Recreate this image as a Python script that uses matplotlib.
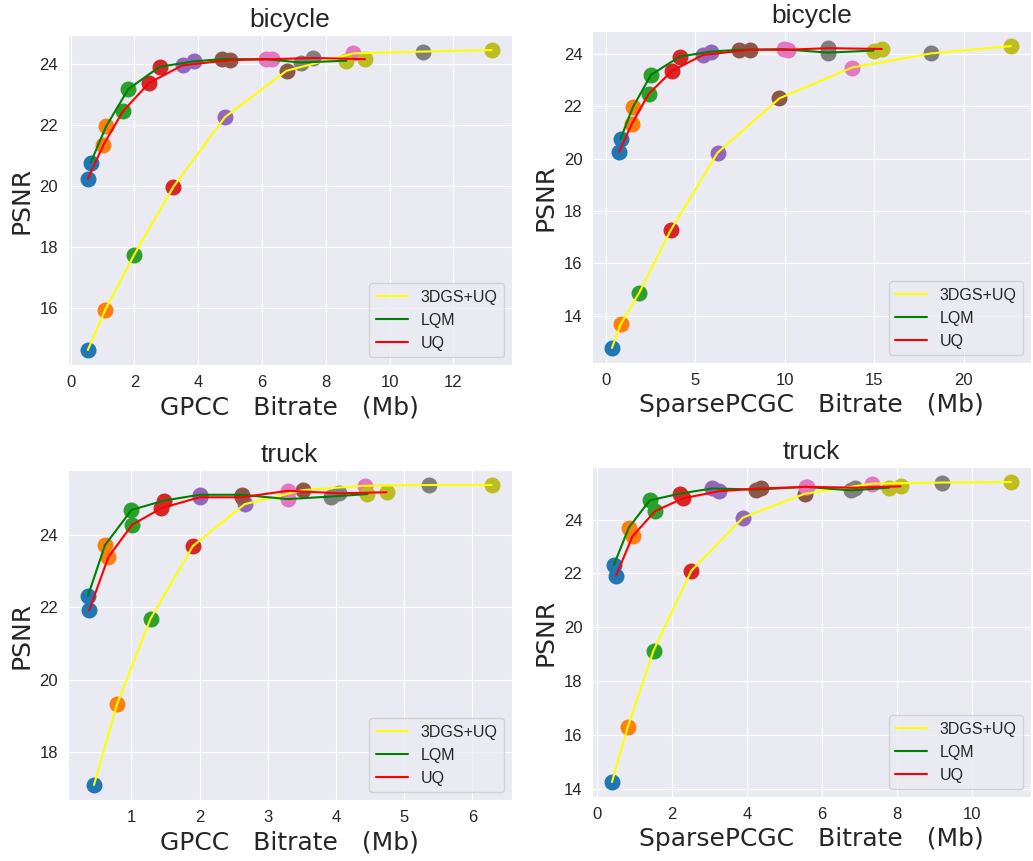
import matplotlib
matplotlib.use("Agg")
import matplotlib.pyplot as plt
import seaborn as sns

# bicycle / GPCC
bg_3dgs_x = [0.54, 1.08, 1.99, 3.22, 4.84, 6.77, 8.87, 11.04, 13.2]
bg_3dgs_y = [14.62, 15.93, 17.74, 19.97, 22.26, 23.78, 24.35, 24.41, 24.46]
bg_lqm_x = [0.63, 1.12, 1.81, 2.79, 3.87, 4.74, 6.12, 7.22, 8.65]
bg_lqm_y = [20.77, 21.97, 23.18, 23.91, 24.09, 24.16, 24.16, 24.05, 24.11]
bg_uq_x = [0.54, 1.03, 1.64, 2.46, 3.51, 5.0, 6.3, 7.6, 9.23]
bg_uq_y = [20.24, 21.35, 22.45, 23.38, 23.96, 24.13, 24.16, 24.2, 24.16]

# bicycle / SparsePCGC
bs_3dgs_x = [0.35, 0.83, 1.88, 3.63, 6.25, 9.71, 13.77, 18.19, 22.65]
bs_3dgs_y = [12.76, 13.66, 14.88, 17.26, 20.23, 22.31, 23.49, 24.03, 24.31]
bs_lqm_x = [0.83, 1.51, 2.53, 4.15, 5.88, 7.47, 9.94, 12.42, 14.97]
bs_lqm_y = [20.76, 21.96, 23.21, 23.91, 24.1, 24.17, 24.19, 24.06, 24.14]
bs_uq_x = [0.74, 1.46, 2.4, 3.72, 5.44, 8.07, 10.17, 12.42, 15.43]
bs_uq_y = [20.25, 21.33, 22.48, 23.37, 23.97, 24.17, 24.17, 24.23, 24.2]

# truck / GPCC
tg_3dgs_x = [0.45, 0.79, 1.28, 1.9, 2.66, 3.52, 4.42, 5.36, 6.28]
tg_3dgs_y = [17.08, 19.33, 21.69, 23.7, 24.86, 25.25, 25.37, 25.39, 25.39]
tg_lqm_x = [0.36, 0.61, 1.0, 1.48, 2.0, 2.62, 3.29, 3.92, 4.46]
tg_lqm_y = [22.31, 23.72, 24.7, 24.96, 25.12, 25.12, 25.0, 25.07, 25.14]
tg_uq_x = [0.38, 0.66, 1.01, 1.44, 2.0, 2.62, 3.29, 4.05, 4.74]
tg_uq_y = [21.92, 23.39, 24.29, 24.75, 25.05, 25.05, 25.23, 25.16, 25.19]

# truck / SparsePCGC
ts_3dgs_x = [0.39, 0.81, 1.5, 2.51, 3.89, 5.55, 7.35, 9.22, 11.05]
ts_3dgs_y = [14.27, 16.3, 19.14, 22.1, 24.07, 24.96, 25.33, 25.37, 25.39]
ts_lqm_x = [0.44, 0.84, 1.4, 2.2, 3.07, 4.25, 5.57, 6.78, 7.79]
ts_lqm_y = [22.31, 23.7, 24.71, 24.96, 25.15, 25.11, 25.21, 25.08, 25.18]
ts_uq_x = [0.5, 0.94, 1.54, 2.28, 3.25, 4.36, 5.59, 6.89, 8.1]
ts_uq_y = [21.92, 23.38, 24.31, 24.78, 25.05, 25.15, 25.21, 25.18, 25.23]

titles = ["bicycle", "bicycle", "truck", "truck"]
xlabels = ["GPCC   Bitrate   (Mb)", "SparsePCGC   Bitrate   (Mb)",
           "GPCC   Bitrate   (Mb)", "SparsePCGC   Bitrate   (Mb)"]
methods = ["3DGS+UQ", "LQM", "UQ"]
line_colors = ["yellow", "green", "red"]

panels = [
    [(bg_3dgs_x, bg_3dgs_y), (bg_lqm_x, bg_lqm_y), (bg_uq_x, bg_uq_y)],
    [(bs_3dgs_x, bs_3dgs_y), (bs_lqm_x, bs_lqm_y), (bs_uq_x, bs_uq_y)],
    [(tg_3dgs_x, tg_3dgs_y), (tg_lqm_x, tg_lqm_y), (tg_uq_x, tg_uq_y)],
    [(ts_3dgs_x, ts_3dgs_y), (ts_lqm_x, ts_lqm_y), (ts_uq_x, ts_uq_y)],
]

sns.set_style("darkgrid")
plt.rcParams['font.family'] = ['Liberation Sans', 'DejaVu Sans']

fig, axes = plt.subplots(2, 2, figsize=(10.33, 8.61), dpi=100)
axes = axes.flatten()

# axes boxes in figure fractions (left, bottom, width, height)
positions = [
    (0.0655, 0.5761, 0.4299, 0.3832),
    (0.5731, 0.5784, 0.4249, 0.3856),
    (0.0655, 0.0709, 0.4299, 0.3832),
    (0.5731, 0.0743, 0.4249, 0.3833),
]

for k, ax in enumerate(axes):
    ax.set_position(positions[k])
    for (xs, ys), name, col in zip(panels[k], methods, line_colors):
        for i in range(len(xs)):
            ax.scatter(xs[i], ys[i], s=110, color=f"C{i}", zorder=1)
        ax.plot(xs, ys, color=col, label=name, linewidth=1.5, zorder=2)
    ax.set_title(titles[k], fontsize=19)
    ax.set_xlabel(xlabels[k], fontsize=18, family='DejaVu Sans')
    ax.set_ylabel("PSNR", fontsize=18, family='DejaVu Sans')
    ax.tick_params(labelsize=12)
    ax.legend(loc="lower right", fontsize=11.5)

fig.savefig("out.png", dpi=100)
